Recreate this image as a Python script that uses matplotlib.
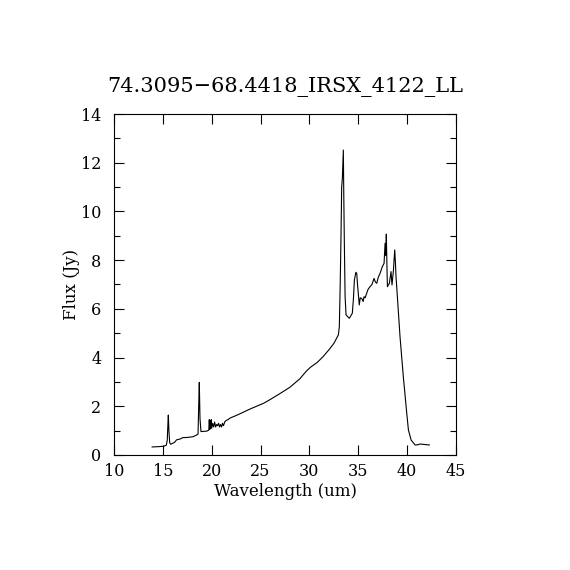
import matplotlib
matplotlib.use('Agg')
import matplotlib.pyplot as plt
from matplotlib.ticker import MultipleLocator

# 光谱数据
wavelength = [13.9, 14.5, 15.1, 15.35, 15.45, 15.52, 15.56, 15.62, 15.7, 15.8,
              16.2, 16.4, 16.8, 17.0, 17.5, 18.1, 18.45, 18.6, 18.68, 18.73, 18.8, 18.9,
              19.5, 19.7, 19.75, 19.8, 19.85, 19.9, 19.95, 20.0, 20.1, 20.2, 20.3, 20.4,
              20.5, 20.6, 20.7, 20.8, 20.9, 21.0, 21.1, 21.2, 21.35, 21.5, 21.7, 21.9,
              22.5, 23.2, 24.0, 25.3, 26.0, 27.3, 28.0, 29.0, 29.7, 30.1, 30.8, 31.4,
              32.0, 32.5, 32.96, 33.06, 33.15, 33.23, 33.3, 33.37, 33.47, 33.52, 33.57,
              33.65, 33.75, 34.08, 34.39, 34.5, 34.6, 34.75, 34.84, 34.92, 35.0, 35.1,
              35.2, 35.35, 35.5, 35.59, 35.7, 35.86, 36.0, 36.2, 36.4, 36.61, 36.75,
              36.89, 37.05, 37.23, 37.46, 37.64, 37.74, 37.8, 37.87, 37.93, 37.98,
              38.18, 38.35, 38.45, 38.6, 38.66, 38.73, 38.8, 38.86, 39.0, 39.27, 39.61,
              39.96, 40.13, 40.4, 40.81, 41.1, 41.32, 41.8, 42.27]
flux = [0.33, 0.34, 0.36, 0.4, 0.6, 1.3, 1.64, 1.0, 0.5, 0.44,
        0.52, 0.62, 0.66, 0.71, 0.72, 0.75, 0.82, 0.86, 2.2, 2.98, 1.5, 0.96,
        0.98, 1.02, 1.45, 1.05, 1.4, 1.1, 1.45, 1.1, 1.3, 1.15, 1.35, 1.15,
        1.25, 1.2, 1.3, 1.15, 1.25, 1.15, 1.3, 1.2, 1.37, 1.42, 1.46, 1.52,
        1.62, 1.75, 1.9, 2.12, 2.28, 2.6, 2.78, 3.12, 3.45, 3.6, 3.8, 4.04,
        4.32, 4.58, 4.93, 5.27, 7.0, 8.96, 11.0, 11.36, 12.52, 10.5, 8.83,
        6.5, 5.75, 5.61, 5.82, 6.4, 7.18, 7.5, 7.46, 7.0, 6.64, 6.16,
        6.45, 6.43, 6.3, 6.5, 6.45, 6.64, 6.8, 6.91, 7.0, 7.25, 7.1,
        7.05, 7.3, 7.46, 7.73, 7.87, 8.69, 8.2, 9.07, 7.8, 6.91,
        7.05, 7.53, 6.98, 7.6, 8.0, 8.42, 7.9, 7.32, 6.5, 4.86, 3.21,
        1.71, 1.03, 0.62, 0.41, 0.42, 0.45, 0.43, 0.41]

plt.rcParams['font.family'] = ['DejaVu Serif']

fig = plt.figure(figsize=(5.7, 5.7), dpi=100)
ax = fig.add_axes([0.2, 0.2018, 0.6, 0.5982])
ax.plot(wavelength, flux, color='black', lw=0.8)

ax.set_xlim(10, 45)
ax.set_ylim(0, 14)
ax.xaxis.set_major_locator(MultipleLocator(5))
ax.yaxis.set_major_locator(MultipleLocator(2))
ax.yaxis.set_minor_locator(MultipleLocator(1))
ax.tick_params(which='both', direction='in', top=True, right=True, labelsize=11.5, width=0.8)
ax.tick_params(which='major', length=7)
ax.tick_params(which='minor', length=4)
ax.tick_params(axis='x', pad=6)
ax.tick_params(axis='y', pad=9)
for s in ax.spines.values():
    s.set_linewidth(0.8)

ax.set_xlabel('Wavelength (um)', fontsize=12, labelpad=2)
ax.set_ylabel('Flux (Jy)', fontsize=12, labelpad=1)
ax.set_title('74.3095\u221268.4418_IRSX_4122_LL', fontsize=15, pad=16)

fig.savefig('out.png', dpi=100)
